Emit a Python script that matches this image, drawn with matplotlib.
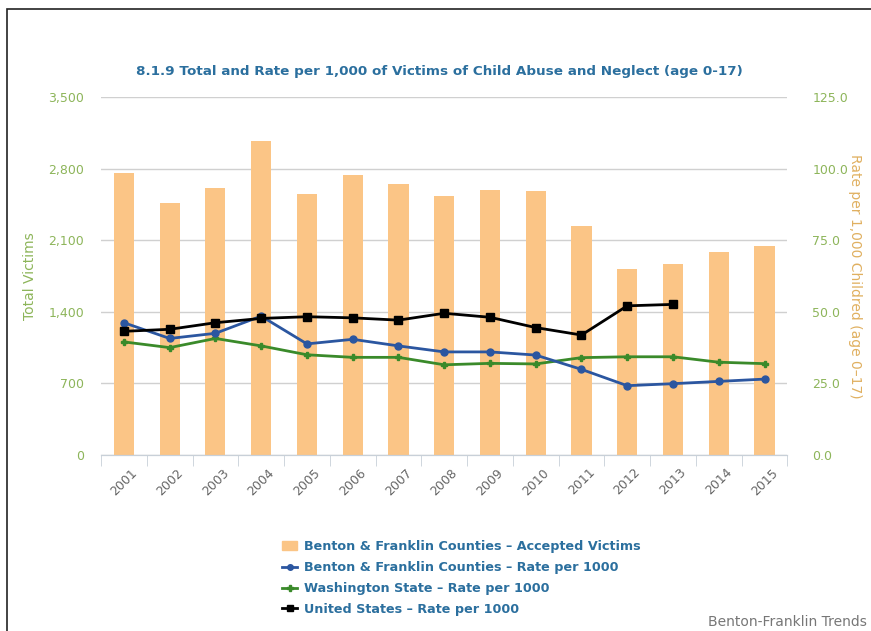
import matplotlib.pyplot as plt
import numpy as np
from matplotlib.patches import Rectangle
from matplotlib.lines import Line2D
from matplotlib.patches import Patch

# data
years = ['2001', '2002', '2003', '2004', '2005', '2006', '2007', '2008',
         '2009', '2010', '2011', '2012', '2013', '2014', '2015']
victims = [2760, 2460, 2615, 3075, 2550, 2740, 2650, 2535,
           2590, 2580, 2235, 1820, 1870, 1990, 2045]
bf_rate = [46.2, 40.7, 42.5, 48.5, 38.8, 40.4, 38.1, 36.0,
           36.0, 34.9, 29.9, 24.2, 24.9, 25.7, 26.5]
wa_rate = [39.5, 37.5, 40.7, 38.1, 35.0, 34.1, 34.1, 31.5,
           32.0, 31.8, 34.0, 34.3, 34.3, 32.4, 31.9]
us_rate = [43.2, 43.9, 46.2, 47.7, 48.3, 47.9, 47.1, 49.5,
           48.1, 44.5, 41.9, 52.1, 52.6]

blue_txt = '#2b6f9e'
green_txt = '#8db55a'
x = np.arange(len(years))

fig = plt.figure(figsize=(8.71, 6.31), dpi=100)
ax = fig.add_axes([0.116, 0.279, 0.788, 0.567])
ax2 = ax.twinx()

# frame round the chart (left and top edges visible)
fig.patches.append(Rectangle((0.008, -0.1), 1.2, 1.086, transform=fig.transFigure,
                             fill=False, edgecolor='#222222', linewidth=1.2))

ax.bar(x, victims, width=0.44, color='#fbc586', zorder=2)
ax.set_ylim(0, 3500)
ax.set_yticks([0, 700, 1400, 2100, 2800, 3500])
ax.set_yticklabels(['0', '700', '1,400', '2,100', '2,800', '3,500'])
ax.set_xlim(-0.5, len(years) - 0.5)
ax.grid(axis='y', color='#d0d0d0', linewidth=1, zorder=0)
ax.set_axisbelow(True)

ax2.plot(x, bf_rate, color='#2b56a0', marker='o', markersize=5, linewidth=2, zorder=4)
ax2.plot(x, wa_rate, color='#3a8a2a', marker='P', markersize=4, linewidth=2, zorder=3)
ax2.plot(x[:len(us_rate)], us_rate, color='black', marker='s', markersize=6, linewidth=2, zorder=5)
ax2.set_ylim(0, 125)
ax2.set_yticks([0, 25, 50, 75, 100, 125])
ax2.set_yticklabels(['0.0', '25.0', '50.0', '75.0', '100.0', '125.0'])

for a in (ax, ax2):
    for s in ['top', 'left', 'right']:
        a.spines[s].set_visible(False)
    a.spines['bottom'].set_color('#c8d0d8')
    a.tick_params(axis='y', length=0, labelcolor=green_txt, labelsize=9, pad=12)

ax.set_xticks(x)
ax.set_xticklabels(years, rotation=45, color='#666666', fontsize=9)
ax.set_xticks(np.arange(-0.5, len(years)), minor=True)
ax.tick_params(axis='x', which='major', length=0, pad=8)
ax.tick_params(axis='x', which='minor', length=8, color='#c8d0d8')
ax2.tick_params(axis='y', pad=18)

ax.set_ylabel('Total Victims', color=green_txt, fontsize=10, labelpad=8)
ax2.set_ylabel('Rate per 1,000 Childred (age 0\u201317)', color='#e0b060', fontsize=10,
               rotation=-90, labelpad=10)

fig.text(0.505, 0.881, '8.1.9 Total and Rate per 1,000 of Victims of Child Abuse and Neglect (age 0-17)',
         ha='center', color=blue_txt, fontsize=9.7, fontweight='bold')

handles = [
    Patch(color='#fbc586'),
    Line2D([], [], color='#2b56a0', marker='o', markersize=4, linewidth=2),
    Line2D([], [], color='#3a8a2a', marker='P', markersize=4, linewidth=2),
    Line2D([], [], color='black', marker='s', markersize=5, linewidth=2),
]
labels = ['Benton & Franklin Counties \u2013 Accepted Victims',
          'Benton & Franklin Counties \u2013 Rate per 1000',
          'Washington State \u2013 Rate per 1000',
          'United States \u2013 Rate per 1000']
leg = fig.legend(handles, labels, loc='upper left', bbox_to_anchor=(0.318, 0.152),
                 frameon=False, fontsize=9.2, handlelength=1.2, handletextpad=0.5,
                 labelspacing=0.62, borderaxespad=0)
for t in leg.get_texts():
    t.set_color(blue_txt)
    t.set_fontweight('bold')

fig.text(0.995, 0.003, 'Benton-Franklin Trends', ha='right', va='bottom',
         color='#777777', fontsize=10)

fig.savefig('out.png', dpi=100)
